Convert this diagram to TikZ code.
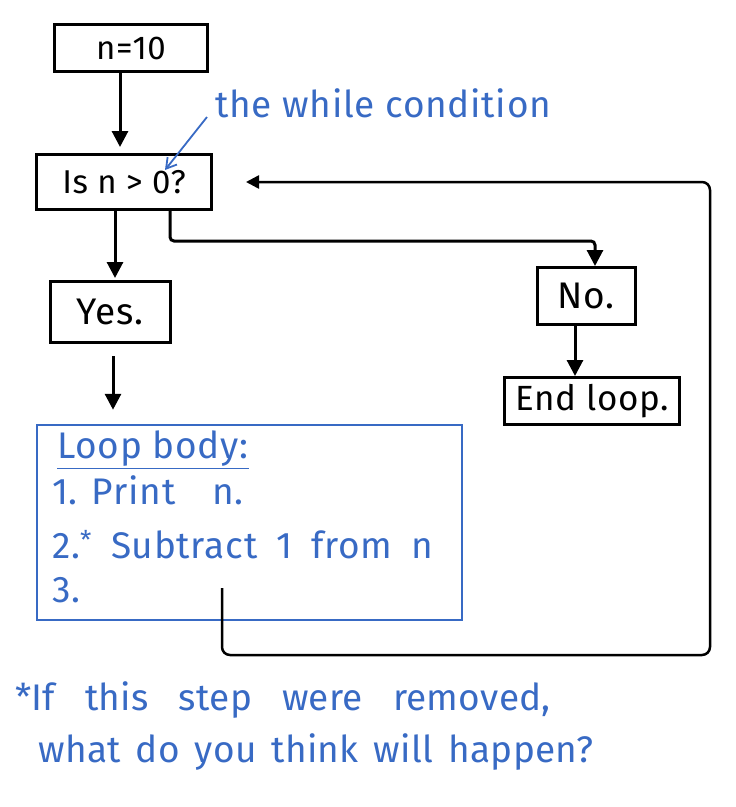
\documentclass[tikz,border=0pt]{standalone}
\usepackage{fontspec}
\setmainfont{Fira Sans}
\newfontfamily\handfont[LetterSpace=2]{Fira Sans}
\newfontfamily\footfont[LetterSpace=0.8]{Fira Sans}
\usetikzlibrary{arrows.meta,calc}
\definecolor{penblue}{RGB}{56,106,196}

\begin{document}
\begin{tikzpicture}[
    x=1pt, y=-1pt,
    box/.style={rectangle, draw, line width=3pt, inner sep=0pt, font=\handfont\fontsize{33}{36}\selectfont},
    note/.style={anchor=west, inner sep=0pt, text=penblue, font=\handfont\fontsize{37}{40}\selectfont},
    foot/.style={note, font=\footfont\fontsize{37}{42}\selectfont},
    arrow/.style={line width=3pt, -{Triangle[length=16pt,width=16pt]}},
    backarrow/.style={line width=2.5pt, -{Triangle[length=13pt,width=13pt]}, rounded corners=8pt},
    notearrow/.style={penblue, line width=1.8pt, -{Straight Barb[length=10pt,width=12pt]}}
]
    \useasboundingbox (0,0) rectangle (736,807);

    % Flow boxes
    \node [box, minimum width=153, minimum height=47] (start) at (131,48) {n=10};
    \node [box, minimum width=175, minimum height=55] (test) at (124,182) {Is n > 0?};
    \node [box, minimum width=120, minimum height=61, font=\handfont\fontsize{37}{40}\selectfont] (yes) at (110,312) {Yes.};
    \node [box, minimum width=98, minimum height=57, font=\handfont\fontsize{37}{40}\selectfont] (no) at (586,296) {No.};
    \node [box, minimum width=175, minimum height=47, font=\handfont\fontsize{35}{40}\selectfont] (endloop) at (592,401) {End loop.};

    % Loop body
    \node [rectangle, draw=penblue, line width=2.5pt, minimum width=425, minimum height=195] (body) at (249.5,522.5) {};
    \node [note] (title) at (57,450) {\underline{Loop body:}};
    \node [note] (step1) at (52,490) {1. Print\quad n.};
    \node [note] (step2) at (52,545) {\spaceskip=19pt 2.\textsuperscript{*} Subtract 1 from n};
    \node [note] (step3) at (52,590) {3.};
    \coordinate (back) at (222,588);
    \coordinate (loopr) at (710,655);

    % Annotation
    \node [note] (cond) at (215,103) {the while condition};
    \draw [notearrow] ([xshift=-8pt, yshift=-14pt]cond.west) -- ([xshift=41pt, yshift=12pt]test.center);

    % Connections
    \draw [arrow, shorten >=6pt] ([xshift=-11pt]start.south) -- ([xshift=-4pt]test.north);
    \draw [arrow, shorten >=2pt] ([xshift=-9pt]test.south) -- ([xshift=5pt]yes.north);
    \draw [arrow, shorten <=12pt, shorten >=14pt] ([xshift=3pt]yes.south) -- ([xshift=3pt]yes.south |- body.north);
    \draw [arrow, rounded corners=4pt] ([xshift=46pt]test.south) |- ($(no.north)+(9,-25)$) -- ([xshift=9pt]no.north);
    \draw [arrow] ([xshift=-11pt]no.south) -- ([xshift=-11pt]no.south |- endloop.north);
    \draw [backarrow] (back) |- (loopr) |- ([xshift=33pt]test.east);

    % Footnote
    \node [foot] (foot1) at (15,700) {\spaceskip=30pt *If this step were removed,};
    \node [foot] (foot2) at (38,752) {\spaceskip=15pt what do you think will happen?};
\end{tikzpicture}
\end{document}
